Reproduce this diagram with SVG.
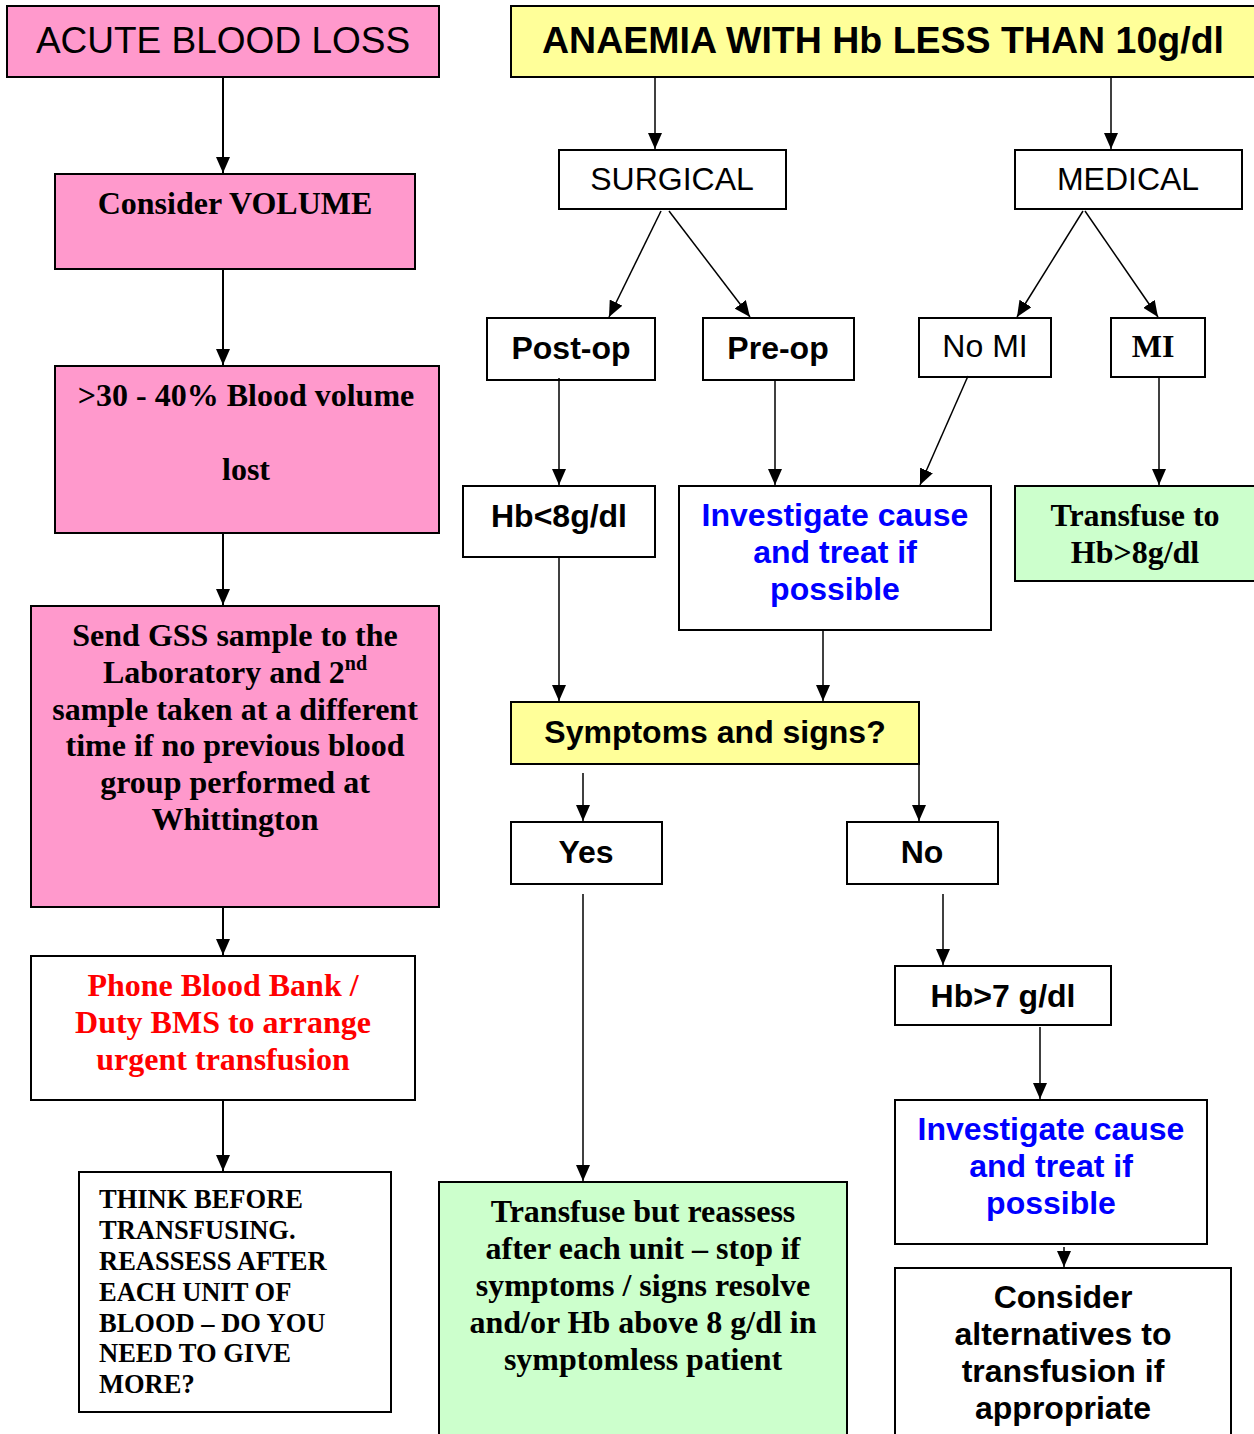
<svg xmlns="http://www.w3.org/2000/svg" width="1254" height="1434" viewBox="0 0 1254 1434">
<defs>
<marker id="ah" viewBox="0 0 16 14" refX="16" refY="7" markerUnits="userSpaceOnUse" markerWidth="16" markerHeight="14" orient="auto">
<path d="M0,0 L16,7 L0,14 z" fill="#000"/>
</marker>
<style>
.box{stroke:#000;stroke-width:2}
.pink{fill:#ff99cc}
.yel{fill:#ffff99}
.grn{fill:#ccffcc}
.wht{fill:#fff}
.sans{font-family:"Liberation Sans",Arial,sans-serif;font-size:32px;text-anchor:middle;fill:#000}
.sb{font-weight:bold}
.serif{font-family:"Liberation Serif","Times New Roman",serif;font-weight:bold;font-size:32px;text-anchor:middle;fill:#000}
.blue{fill:#0000ff}
.red{fill:#ff0000}
.con path{fill:none;stroke:#000;marker-end:url(#ah)}
</style>
</defs>
<rect width="1254" height="1434" fill="#fff"/>

<g id="acute">
<rect class="box pink" x="7" y="6" width="432" height="71"/>
<text class="sans" x="223" y="53" style="font-size:37px">ACUTE BLOOD LOSS</text>
</g>
<g id="volume">
<rect class="box pink" x="55" y="174" width="360" height="95"/>
<text class="serif" x="235" y="214">Consider VOLUME</text>
</g>
<g id="bloodvol">
<rect class="box pink" x="55" y="366" width="384" height="167"/>
<text class="serif" x="246" y="406">&gt;30 - 40% Blood volume</text>
<text class="serif" x="246" y="480">lost</text>
</g>
<g id="gss">
<rect class="box pink" x="31" y="606" width="408" height="301"/>
<text class="serif" x="235" y="646">Send GSS sample to the</text>
<text class="serif" x="235" y="683">Laboratory and 2<tspan style="font-size:20px" dy="-13">nd</tspan></text>
<text class="serif" x="235" y="720">sample taken at a different</text>
<text class="serif" x="235" y="756">time if no previous blood</text>
<text class="serif" x="235" y="793">group performed at</text>
<text class="serif" x="235" y="830">Whittington</text>
</g>
<g id="phone">
<rect class="box wht" x="31" y="956" width="384" height="144"/>
<text class="serif red" x="223" y="996">Phone Blood Bank /</text>
<text class="serif red" x="223" y="1033">Duty BMS to arrange</text>
<text class="serif red" x="223" y="1070">urgent transfusion</text>
</g>
<g id="think">
<rect class="box wht" x="79" y="1172" width="312" height="240"/>
<g class="serif" style="text-anchor:start;font-size:26.5px">
<text x="99" y="1208">THINK BEFORE</text>
<text x="99" y="1239">TRANSFUSING.</text>
<text x="99" y="1270">REASSESS AFTER</text>
<text x="99" y="1301">EACH UNIT OF</text>
<text x="99" y="1332">BLOOD – DO YOU</text>
<text x="99" y="1362">NEED TO GIVE</text>
<text x="99" y="1393">MORE?</text>
</g>
</g>

<g id="anaemia">
<rect class="box yel" x="511" y="6" width="750" height="71"/>
<text class="sans sb" x="883" y="53" style="font-size:37.5px">ANAEMIA WITH Hb LESS THAN 10g/dl</text>
</g>
<g id="surgical">
<rect class="box wht" x="559" y="150" width="227" height="59"/>
<text class="sans" x="672" y="190">SURGICAL</text>
</g>
<g id="medical">
<rect class="box wht" x="1015" y="150" width="227" height="59"/>
<text class="sans" x="1128" y="190">MEDICAL</text>
</g>
<g id="postop">
<rect class="box wht" x="487" y="318" width="168" height="62"/>
<text class="sans sb" x="571" y="359">Post-op</text>
</g>
<g id="preop">
<rect class="box wht" x="703" y="318" width="151" height="62"/>
<text class="sans sb" x="778" y="359">Pre-op</text>
</g>
<g id="nomi">
<rect class="box wht" x="919" y="318" width="132" height="59"/>
<text class="sans" x="985" y="357">No MI</text>
</g>
<g id="mi">
<rect class="box wht" x="1111" y="318" width="94" height="59"/>
<text class="serif" x="1153" y="357">MI</text>
</g>
<g id="hb8">
<rect class="box wht" x="463" y="486" width="192" height="71"/>
<text class="sans sb" x="559" y="527">Hb&lt;8g/dl</text>
</g>
<g id="investigate1">
<rect class="box wht" x="679" y="486" width="312" height="144"/>
<text class="sans sb blue" x="835" y="526">Investigate cause</text>
<text class="sans sb blue" x="835" y="563">and treat if</text>
<text class="sans sb blue" x="835" y="600">possible</text>
</g>
<g id="transfuse8">
<rect class="box grn" x="1015" y="486" width="246" height="95"/>
<text class="serif" x="1135" y="526">Transfuse to</text>
<text class="serif" x="1135" y="563">Hb&gt;8g/dl</text>
</g>
<g id="symptoms">
<rect class="box yel" x="511" y="702" width="408" height="62"/>
<text class="sans sb" x="715" y="743">Symptoms and signs?</text>
</g>
<g id="yes">
<rect class="box wht" x="511" y="822" width="151" height="62"/>
<text class="sans sb" x="586" y="863">Yes</text>
</g>
<g id="no">
<rect class="box wht" x="847" y="822" width="151" height="62"/>
<text class="sans sb" x="922" y="863">No</text>
</g>
<g id="hb7">
<rect class="box wht" x="895" y="966" width="216" height="59"/>
<text class="sans sb" x="1003" y="1007">Hb&gt;7 g/dl</text>
</g>
<g id="investigate2">
<rect class="box wht" x="895" y="1100" width="312" height="144"/>
<text class="sans sb blue" x="1051" y="1140">Investigate cause</text>
<text class="sans sb blue" x="1051" y="1177">and treat if</text>
<text class="sans sb blue" x="1051" y="1214">possible</text>
</g>
<g id="alternatives">
<rect class="box wht" x="895" y="1268" width="336" height="180"/>
<text class="sans sb" x="1063" y="1308">Consider</text>
<text class="sans sb" x="1063" y="1345">alternatives to</text>
<text class="sans sb" x="1063" y="1382">transfusion if</text>
<text class="sans sb" x="1063" y="1419">appropriate</text>
</g>
<g id="transfuse-reassess">
<rect class="box grn" x="439" y="1182" width="408" height="270"/>
<text class="serif" x="643" y="1222">Transfuse but reassess</text>
<text class="serif" x="643" y="1259">after each unit – stop if</text>
<text class="serif" x="643" y="1296">symptoms / signs resolve</text>
<text class="serif" x="643" y="1333">and/or Hb above 8 g/dl in</text>
<text class="serif" x="643" y="1370">symptomless patient</text>
</g>

<g id="connectors" class="con">
<path d="M223,77 V173" stroke-width="2"/>
<path d="M223,269 V365" stroke-width="2"/>
<path d="M223,533 V605" stroke-width="2"/>
<path d="M223,907 V955" stroke-width="2"/>
<path d="M223,1100 V1171" stroke-width="2"/>
<path d="M655,77 V149" stroke-width="1.5"/>
<path d="M1111,77 V149" stroke-width="1.5"/>
<path d="M661,211 L609,317" stroke-width="1.5"/>
<path d="M669,211 L750,317" stroke-width="1.5"/>
<path d="M1083,211 L1017,317" stroke-width="1.5"/>
<path d="M1085,211 L1158,317" stroke-width="1.5"/>
<path d="M559,378 V485" stroke-width="1.5"/>
<path d="M775,380 V485" stroke-width="1.5"/>
<path d="M968,376 L920,485" stroke-width="1.5"/>
<path d="M1159,378 V485" stroke-width="1.5"/>
<path d="M559,557 V701" stroke-width="1.5"/>
<path d="M823,630 V701" stroke-width="1.5"/>
<path d="M583,773 V821" stroke-width="1.5"/>
<path d="M919,764 V821" stroke-width="1.5"/>
<path d="M583,894 V1181" stroke-width="1.5"/>
<path d="M943,894 V965" stroke-width="1.5"/>
<path d="M1040,1027 V1099" stroke-width="1.5"/>
<path d="M1064,1247 V1267" stroke-width="1.5"/>
</g>
</svg>
